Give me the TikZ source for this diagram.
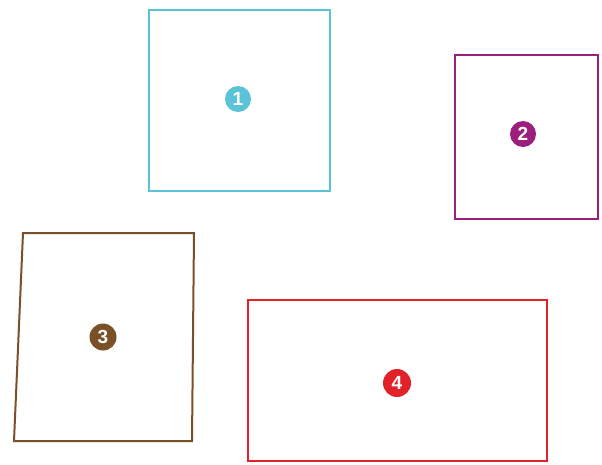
\documentclass[tikz,border=0pt]{standalone}
\usepackage{fontspec}
\setmainfont{Liberation Sans}
\definecolor{cyanc}{HTML}{5BC3D8}
\definecolor{purplec}{HTML}{9C1F7E}
\definecolor{brownc}{HTML}{7A5028}
\definecolor{redc}{HTML}{E2222A}
\begin{document}
\begin{tikzpicture}[x=1pt,y=-1pt,
  frame/.style={line width=2pt},
  badge/.style={circle,fill=#1,text=white,inner sep=0pt,minimum size=26pt,font=\fontsize{19}{19}\selectfont\bfseries}]
\useasboundingbox (0,0) rectangle (602,464);
\fill[white] (0,0) rectangle (602,464);
% rectangles
\draw[frame,cyanc] (149,10) rectangle (330,191);
\draw[frame,purplec] (455,55) rectangle (598,219);
\draw[frame,brownc] (23,233) -- (194,233) -- (192,441) -- (14,441) -- cycle;
\draw[frame,redc] (248,300) rectangle (547,461);
% badges
\node[badge=cyanc] (b1) at (238,99) {1};
\node[badge=purplec] (b2) at (523,134) {2};
\node[badge=brownc,minimum size=27pt] (b3) at (103,337) {3};
\node[badge=redc,minimum size=28pt] (b4) at (397,383) {4};
\end{tikzpicture}
\end{document}
